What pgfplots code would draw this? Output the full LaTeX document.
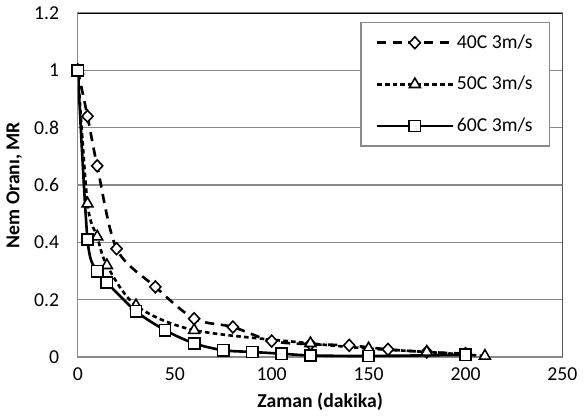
\documentclass[border=0pt]{standalone}
\usepackage{fontspec}
\setmainfont{Carlito}
\usepackage{pgfplots}
\pgfplotsset{compat=1.18}

\definecolor{gridgray}{RGB}{137,137,137}

\begin{document}
\fontsize{15}{18}\selectfont
\begin{tikzpicture}
\begin{axis}[
    scale only axis,
    width=369pt, height=262pt,
    xmin=0, xmax=250, ymin=0, ymax=1.2,
    xtick={0,50,...,250},
    ytick={0,0.2,...,1.2},
    yticklabels={0,0.2,0.4,0.6,0.8,1,1.2},
    major tick length=0pt,
    ymajorgrids=true,
    grid style={gridgray, line width=1pt},
    axis line style={gridgray, line width=1pt},
    tick label style={font=\fontsize{15}{18}\selectfont},
    yticklabel style={xshift=-9pt},
    xticklabel style={yshift=-3pt},
    /pgf/number format/assume math mode=true,
    xlabel={\textbf{Zaman (dakika)}},
    ylabel={\textbf{Nem Oranı, MR}},
    xlabel style={yshift=1pt},
    ylabel style={yshift=-1pt},
    legend style={at={(rel axis cs:0.583,0.974)}, anchor=north west,
        draw=gridgray, line width=1pt, font=\fontsize{15}{18}\selectfont,
        inner xsep=11pt, inner ysep=7pt, row sep=15pt},
    legend cell align=left,
    legend image code/.code={
        \draw[mark repeat=2,mark phase=2] plot coordinates {(0pt,0pt) (29pt,0pt) (58pt,0pt)};
    },
    every axis plot/.append style={black, line width=2pt, smooth, tension=0.5},
]
\addplot[dash pattern=on 7pt off 5pt, mark=diamond*, mark size=4.5pt,
    mark options={solid, fill=white, line width=1.2pt, xscale=1.25}]
    coordinates {(0,1) (5,0.84) (10,0.667) (20,0.378) (40,0.245) (60,0.134)
    (80,0.105) (100,0.056) (120,0.045) (140,0.041) (160,0.027) (180,0.018) (200,0.012)};
\addlegendentry{40C 3m/s}
\addplot[dash pattern=on 3.5pt off 2.5pt, mark=triangle*, mark size=4.8pt,
    mark options={solid, fill=white, line width=1.2pt}]
    coordinates {(0,1) (5,0.535) (10,0.42) (15,0.32) (30,0.18) (60,0.094)
    (120,0.048) (150,0.03) (180,0.018) (210,0.004)};
\addlegendentry{50C 3m/s}
\addplot[solid, mark=square*, mark size=4.3pt,
    mark options={solid, fill=white, line width=1.2pt}]
    coordinates {(0,1) (5,0.41) (10,0.30) (15,0.26) (30,0.16) (45,0.094)
    (60,0.048) (75,0.024) (90,0.018) (105,0.012) (120,0.006) (150,0.004) (200,0.008)};
\addlegendentry{60C 3m/s}
\draw[black, line width=1pt] (rel axis cs:0,1) -- (rel axis cs:1,1) -- (rel axis cs:1,0);
\end{axis}
\end{tikzpicture}
\end{document}
